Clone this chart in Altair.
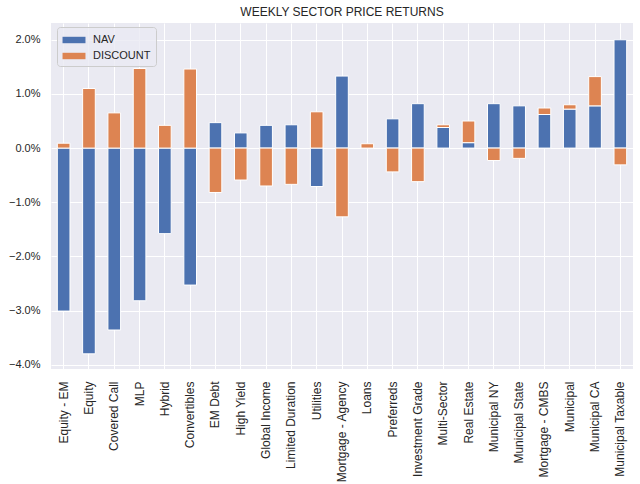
import altair as alt
import pandas as pd

categories = ["Equity - EM", "Equity", "Covered Call", "MLP", "Hybrid", "Convertibles",
              "EM Debt", "High Yield", "Global Income", "Limited Duration", "Utilities",
              "Mortgage - Agency", "Loans", "Preferreds", "Investment Grade", "Multi-Sector",
              "Real Estate", "Municipal NY", "Municipal State", "Mortgage - CMBS",
              "Municipal", "Municipal CA", "Municipal Taxable"]
nav = [-3.01, -3.80, -3.36, -2.82, -1.58, -2.53, 0.47, 0.28, 0.42, 0.43, -0.71,
       1.33, 0.0, 0.54, 0.82, 0.38, 0.10, 0.82, 0.78, 0.62, 0.72, 0.78, 2.00]
discount = [0.09, 1.10, 0.65, 1.47, 0.42, 1.46, -0.82, -0.59, -0.70, -0.67, 0.67,
            -1.27, 0.08, -0.44, -0.62, 0.05, 0.40, -0.23, -0.19, 0.12, 0.08, 0.54, -0.31]
series = ["NAV", "DISCOUNT"]
colors = ["#4C72B0", "#DD8452"]

rows = []
for i, c in enumerate(categories):
    rows.append({"sector": c, "series": "NAV", "value": nav[i], "ord": 0})
    rows.append({"sector": c, "series": "DISCOUNT", "value": discount[i], "ord": 1})
df = pd.DataFrame(rows)

FONT = "Liberation Sans"

chart = alt.Chart(df).mark_bar(stroke="white", strokeWidth=1).encode(
    x=alt.X("sector:N", sort=categories, title=None,
            scale=alt.Scale(paddingInner=0.5, paddingOuter=0.25),
            axis=alt.Axis(labelAngle=270, labelPadding=12, ticks=False, domain=False,
                          grid=True, bandPosition=0.5, gridColor="white", gridWidth=1,
                          labelFont=FONT, labelFontSize=12, labelColor="#262626")),
    y=alt.Y("value:Q", stack="zero", title=None,
            scale=alt.Scale(domain=[-4.08, 2.31], nice=False, zero=False),
            axis=alt.Axis(values=[-4, -3, -2, -1, 0, 1, 2],
                          labelExpr="format(datum.value, '.1f') + '%'",
                          ticks=False, domain=False, labelPadding=11,
                          gridColor="white", gridWidth=1,
                          labelFont=FONT, labelFontSize=11, labelColor="#262626")),
    color=alt.Color("series:N", scale=alt.Scale(domain=series, range=colors),
                    legend=alt.Legend(title=None, orient="none", legendX=6, legendY=4,
                                      symbolType="M-1.5,-0.42L1.5,-0.42L1.5,0.42L-1.5,0.42Z",
                                      symbolSize=234, symbolStrokeWidth=0, symbolOffset=4,
                                      labelFont=FONT, labelFontSize=11, labelColor="#262626",
                                      labelOffset=11, rowPadding=3, padding=5,
                                      fillColor="rgba(234,234,242,0.8)", strokeColor="#cccccc",
                                      cornerRadius=3)),
    order=alt.Order("ord:Q"),
).properties(
    width=582, height=346,
    title=alt.TitleParams("WEEKLY SECTOR PRICE RETURNS", font=FONT, fontSize=12,
                          fontWeight="normal", color="#262626", offset=4),
    autosize=alt.AutoSizeParams(type="none"),
    padding={"left": 51, "top": 23, "right": 7, "bottom": 115},
    background="white",
).configure_view(fill="#EAEAF2", stroke=None)

chart.save("out.html", embed_options={"renderer": "svg", "actions": False})
